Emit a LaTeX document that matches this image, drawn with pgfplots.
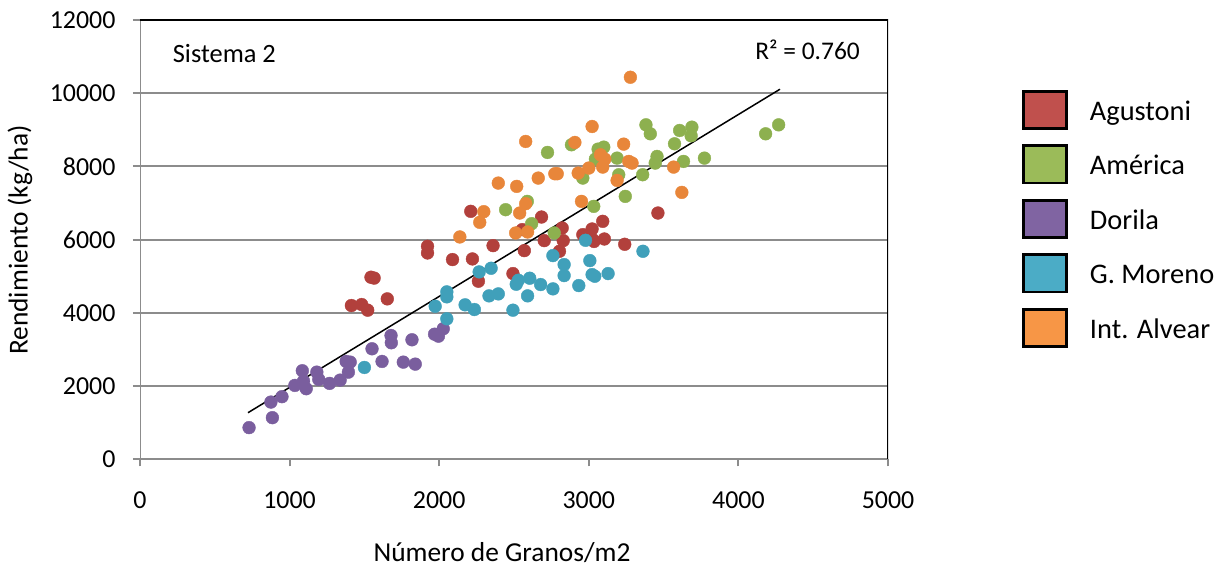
\documentclass[border=0pt]{standalone}
\usepackage{fontspec}
\setmainfont{Carlito}
\usepackage{pgfplots}
\pgfplotsset{compat=1.18}
\definecolor{ptred}{RGB}{178,64,60}
\definecolor{ptgreen}{RGB}{141,176,79}
\definecolor{ptpurple}{RGB}{122,94,158}
\definecolor{ptteal}{RGB}{64,160,186}
\definecolor{ptorange}{RGB}{232,134,58}
\definecolor{lgred}{HTML}{C0504D}
\definecolor{lggreen}{HTML}{9BBB59}
\definecolor{lgpurple}{HTML}{8064A2}
\definecolor{lgteal}{HTML}{4BACC6}
\definecolor{lgorange}{HTML}{F79646}
\definecolor{axgray}{RGB}{140,140,140}
\begin{document}
\begin{tikzpicture}[x=1bp,y=1bp]
\useasboundingbox (0,0) rectangle (1222,566);
\begin{axis}[
  at={(140bp,106.7bp)}, anchor=south west,
  scale only axis, width=748bp, height=439.3bp,
  xmin=0, xmax=5000, ymin=0, ymax=12000,
  xtick={0,1000,...,5000}, ytick={0,2000,...,12000},
  scaled ticks=false,
  /pgf/number format/1000 sep={},
  /pgf/number format/assume math mode=true,
  tick label style={font=\fontsize{26}{30}\selectfont, black},
  xticklabel style={yshift=-22bp},
  yticklabel style={xshift=-14bp},
  tick pos=left, tick align=outside,
  major tick length=7bp,
  tick style={axgray, line width=2bp},
  axis line style={draw=none},
  ymajorgrids, grid style={axgray, line width=2bp},
  xlabel={Número de Granos/m2},
  ylabel={Rendimiento (kg/ha)},
  label style={font=\fontsize{27.5}{32}\selectfont},
  xlabel style={at={(axis description cs:0.484,-0.2117)}, anchor=center},
  ylabel style={at={(axis description cs:-0.1604,0.499)}, anchor=center},
  legend style={at={(1.1791,0.8407)}, anchor=north west, draw=none, fill=none,
    inner sep=0pt, outer sep=0pt, font=\fontsize{28.5}{32}\selectfont,
    row sep=14.5bp, column sep=22bp, nodes={inner sep=0pt}},
  legend cell align=left,
]
\addplot[only marks, mark=*, mark size=6.4bp, color=ptred,
  legend image code/.code={\draw[fill=lgred, draw=black, line width=2.8bp] (1.4bp,-17.3bp) rectangle (44.6bp,19.9bp);}]
  coordinates {
(1413,4200) (1482,4227) (1522,4073) (1653,4382) (1544,4973) (1565,4950)
(1922,5818) (1922,5636) (2089,5455) (2211,6773) (2222,5473) (2262,4864)
(2360,5836) (2493,5073) (2555,6273) (2569,5700) (2684,6618) (2702,5973)
(2822,6318) (2829,5973) (2804,5682) (2960,6136) (3022,6291) (3027,6000)
(3035,5950) (3093,6500) (3104,6018) (3240,5873) (3462,6727)
};
\addlegendentry{Agustoni}
\addplot[only marks, mark=*, mark size=6.4bp, color=ptgreen,
  legend image code/.code={\draw[fill=lggreen, draw=black, line width=2.8bp] (1.4bp,-17.3bp) rectangle (44.6bp,19.9bp);}]
  coordinates {
(2444,6818) (2589,7045) (2618,6436) (2769,6182) (2724,8382) (2884,8591)
(2960,7682) (3033,6909) (3044,8200) (3062,8473) (3100,8527) (3189,8227)
(3200,7773) (3244,7182) (3360,7773) (3382,9136) (3411,8891) (3444,8091)
(3456,8273) (3573,8618) (3607,8982) (3633,8136) (3684,8836) (3689,9073)
(3773,8227) (4182,8891) (4269,9136)
};
\addlegendentry{América}
\addplot[only marks, mark=*, mark size=6.4bp, color=ptpurple,
  legend image code/.code={\draw[fill=lgpurple, draw=black, line width=2.8bp] (1.4bp,-17.3bp) rectangle (44.6bp,19.9bp);}]
  coordinates {
(729,865) (885,1137) (875,1563) (949,1710) (1035,2018) (1085,2419)
(1111,1928) (1093,2135) (1182,2381) (1195,2182) (1267,2073) (1338,2163)
(1378,2673) (1405,2654) (1393,2381) (1551,3019) (1618,2673) (1678,3382)
(1680,3183) (1760,2654) (1818,3265) (1840,2600) (1969,3417) (1995,3363)
(2027,3565)
};
\addlegendentry{Dorila}
\addplot[only marks, mark=*, mark size=6.4bp, color=ptteal,
  legend image code/.code={\draw[fill=lgteal, draw=black, line width=2.8bp] (1.4bp,-17.3bp) rectangle (44.6bp,19.9bp);}]
  coordinates {
(1500,2509) (1973,4181) (2051,4573) (2051,4437) (2051,3837) (2173,4219)
(2235,4091) (2267,5119) (2347,5219) (2333,4464) (2395,4518) (2493,4073)
(2529,4891) (2515,4782) (2591,4464) (2605,4946) (2678,4773) (2760,4655)
(2760,5564) (2835,5318) (2835,5018) (2933,4745) (2978,5982) (3007,5427)
(3022,5045) (3040,5000) (3129,5073) (3362,5682)
};
\addlegendentry{G. Moreno}
\addplot[only marks, mark=*, mark size=6.4bp, color=ptorange,
  legend image code/.code={\draw[fill=lgorange, draw=black, line width=2.8bp] (1.4bp,-17.3bp) rectangle (44.6bp,19.9bp);}]
  coordinates {
(2138,6073) (2271,6473) (2298,6764) (2395,7545) (2518,7455) (2511,6182)
(2591,6209) (2538,6727) (2578,6982) (2578,8682) (2662,7682) (2773,7800)
(2789,7800) (2907,8655) (2929,7818) (2951,7045) (3000,7955) (3022,9091)
(3078,8318) (3107,8200) (3093,7982) (3189,7618) (3233,8609) (3267,8136)
(3289,8091) (3278,10436) (3567,7982) (3622,7291)
};
\addlegendentry{Int. Alvear}
\addplot[black, line width=1.5bp, forget plot] coordinates {(722,1273) (4278,10109)};
\draw[axgray, line width=2bp] (rel axis cs:0,1) -- (rel axis cs:0,0) -- (rel axis cs:1,0);
\draw[black, line width=1.5bp] (rel axis cs:0,1) -- (rel axis cs:1,1) -- (rel axis cs:1,0);
\node[anchor=base west, font=\fontsize{26.5}{30}\selectfont] at (rel axis cs:0.0392,0.9028) {Sistema 2};
\node[anchor=base west, font=\fontsize{25.5}{30}\selectfont] at (rel axis cs:0.818,0.9105) {R² = 0.760};
\end{axis}
\end{tikzpicture}
\end{document}
